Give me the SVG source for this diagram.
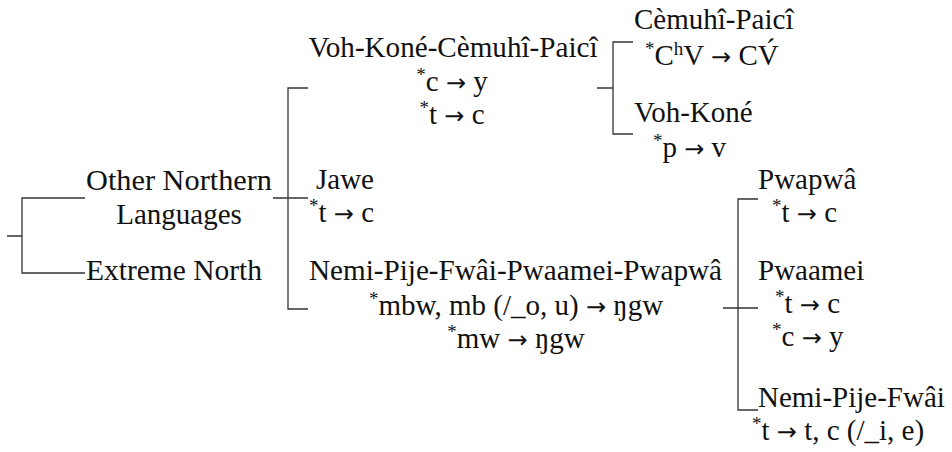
<svg xmlns="http://www.w3.org/2000/svg" width="952" height="452" viewBox="0 0 952 452">
<style>
.c{text-anchor:middle}
.s{font-size:19px}
.a{font-family:"DejaVu Sans",sans-serif;font-size:24px}
path{fill:none;stroke:#333;stroke-width:1.3}
</style>
<rect width="952" height="452" fill="#fff"/>
<g id="connectors">
<path d="M7 236H22M85 198H22V273H85"/>
<path d="M273 198H308M308 88H288V309H308"/>
<path d="M597 88H613M633 42H613V134H633"/>
<path d="M723 308H758M758 199H738V410H758"/>
</g>
<g font-family="Liberation Serif, Times New Roman, DejaVu Serif, serif" font-size="29" fill="#111">
<g id="other-northern">
<text class="c" x="179" y="190" textLength="186" lengthAdjust="spacingAndGlyphs">Other Northern</text>
<text class="c" x="179" y="224">Languages</text>
</g>
<g id="extreme-north">
<text x="86" y="280" textLength="176" lengthAdjust="spacingAndGlyphs">Extreme North</text>
</g>
<g id="voh-kone-cemuhi-paici">
<text class="c" x="453" y="57" textLength="289" lengthAdjust="spacingAndGlyphs">Voh-Koné-Cèmuhî-Paicî</text>
<text class="c" x="452" y="91"><tspan class="s" dy="-10">*</tspan><tspan dy="10">c </tspan><tspan class="a">→</tspan> y</text>
<text class="c" x="452" y="124"><tspan class="s" dy="-10">*</tspan><tspan dy="10">t </tspan><tspan class="a">→</tspan> c</text>
</g>
<g id="cemuhi-paici">
<text x="634" y="29">Cèmuhî-Paicî</text>
<text x="645" y="65"><tspan class="s" dy="-10">*</tspan><tspan dy="10">C</tspan><tspan class="s" dy="-10">h</tspan><tspan dy="10">V </tspan><tspan class="a">→</tspan> CV́</text>
</g>
<g id="voh-kone">
<text x="634" y="122">Voh-Koné</text>
<text x="653" y="157"><tspan class="s" dy="-10">*</tspan><tspan dy="10">p </tspan><tspan class="a">→</tspan> v</text>
</g>
<g id="jawe">
<text x="316" y="189">Jawe</text>
<text x="309" y="222"><tspan class="s" dy="-10">*</tspan><tspan dy="10">t </tspan><tspan class="a">→</tspan> c</text>
</g>
<g id="nemi-pije-fwai-pwaamei-pwapwa">
<text x="309" y="280" textLength="413" lengthAdjust="spacingAndGlyphs">Nemi-Pije-Fwâi-Pwaamei-Pwapwâ</text>
<text class="c" x="516" y="315"><tspan class="s" dy="-10">*</tspan><tspan dy="10">mbw, mb (/_o, u) </tspan><tspan class="a">→</tspan> ŋgw</text>
<text class="c" x="516" y="348"><tspan class="s" dy="-10">*</tspan><tspan dy="10">mw </tspan><tspan class="a">→</tspan> ŋgw</text>
</g>
<g id="pwapwa">
<text x="758" y="189">Pwapwâ</text>
<text x="772" y="222"><tspan class="s" dy="-10">*</tspan><tspan dy="10">t </tspan><tspan class="a">→</tspan> c</text>
</g>
<g id="pwaamei">
<text x="758" y="280">Pwaamei</text>
<text x="775" y="313"><tspan class="s" dy="-10">*</tspan><tspan dy="10">t </tspan><tspan class="a">→</tspan> c</text>
<text x="772" y="346"><tspan class="s" dy="-10">*</tspan><tspan dy="10">c </tspan><tspan class="a">→</tspan> y</text>
</g>
<g id="nemi-pije-fwai">
<text x="758" y="407">Nemi-Pije-Fwâi</text>
<text x="752" y="440"><tspan class="s" dy="-10">*</tspan><tspan dy="10">t </tspan><tspan class="a">→</tspan> t, c (/_i, e)</text>
</g>
</g>
</svg>
